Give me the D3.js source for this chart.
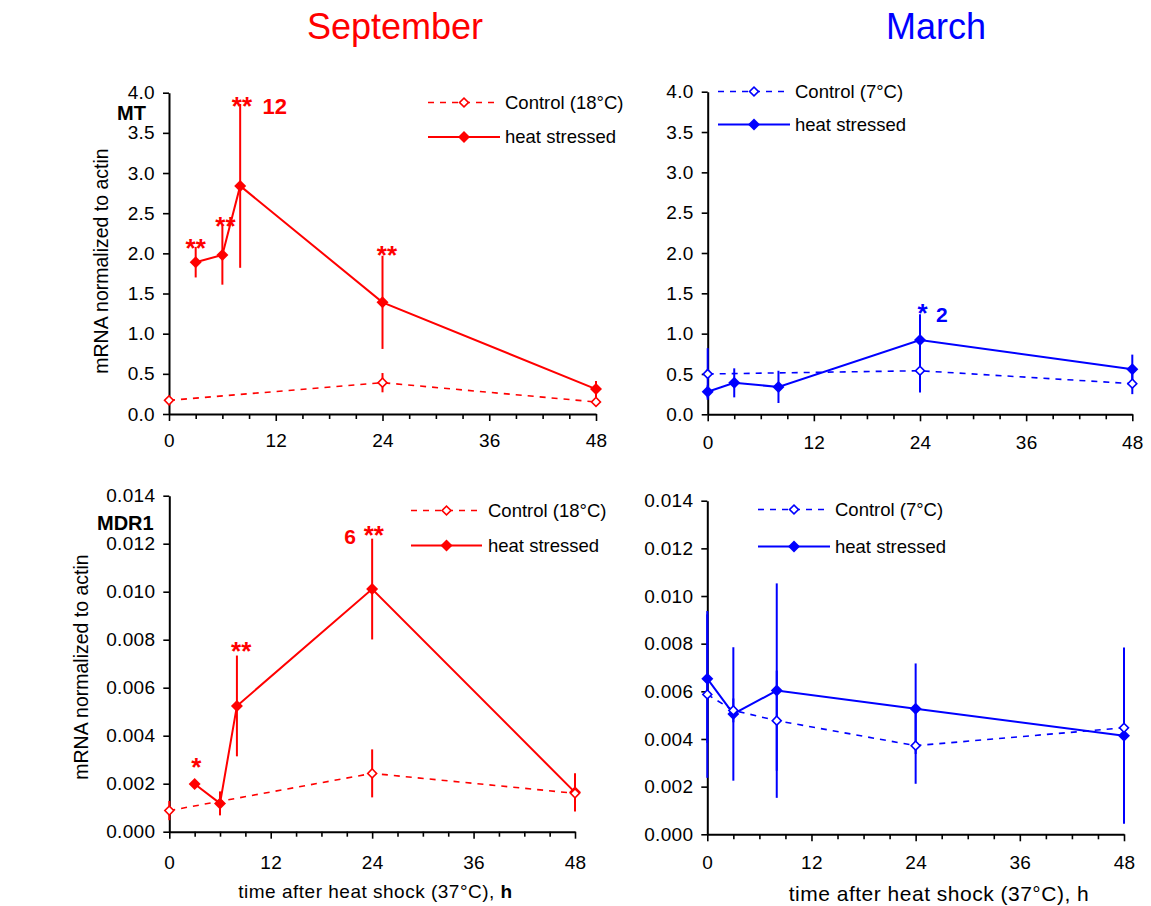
<!DOCTYPE html>
<html><head><meta charset="utf-8">
<script src="https://cdn.jsdelivr.net/npm/d3@7"></script>
<style>
body{margin:0;background:#fff}
svg{display:block}
text{font-family:"Liberation Sans",Arial,Helvetica,sans-serif}
</style>
</head><body>
<svg id="chart" width="1151" height="906"></svg>
<script>
// ---------------- DATA ----------------
const xTicks = [0,3,6,9,12,15,18,21,24,27,30,33,36,39,42,45,48];
const xTickLabels = [0,12,24,36,48];
const mtTicks = [0,0.5,1.0,1.5,2.0,2.5,3.0,3.5,4.0];
const mdrTicks = [0,0.002,0.004,0.006,0.008,0.010,0.012,0.014];

const columnTitles = ["September","March"];
const rowLabels = ["MT","MDR1"];
const seriesNames = ["heat stressed"];
const controlNames = ["Control (18°C)","Control (7°C)"];
const yTitle = "mRNA normalized to actin";
const xTitle = "time after heat shock (37°C), ";
const xTitleUnit = "h";

// September, MT
const sepMT_heat_t = [3,6,8,24,48];
const sepMT_heat_v = [1.89,1.98,2.84,1.39,0.31];
const sepMT_heat_e = [0.19,0.37,1.02,0.58,0.10];
const sepMT_ctrl_t = [0,24,48];
const sepMT_ctrl_v = [0.17,0.39,0.15];
const sepMT_ctrl_e = [0.03,0.12,0.04];
const sepMT_marks = [{t:3,y:2.19,s:"**"},{t:6.35,y:2.46,s:"**"},{t:8.2,y:3.96,s:"**"},{t:24.5,y:2.10,s:"**"}];
const sepMT_fold = [{t:10.5,y:3.74,s:"12"}];

// March, MT
const marMT_heat_t = [0,3,8,24,48];
const marMT_heat_v = [0.28,0.39,0.34,0.92,0.56];
const marMT_heat_e = [0.08,0.18,0.20,0.32,0.18];
const marMT_ctrl_t = [0,24,48];
const marMT_ctrl_v = [0.50,0.54,0.38];
const marMT_ctrl_e = [0.32,0.27,0.13];
const marMT_marks = [{t:24.3,y:1.37,s:"*"}];
const marMT_fold = [{t:25.8,y:1.145,s:"2"}];

// September, MDR1
const sepMDR_heat_t = [3,6,8,24,48];
const sepMDR_heat_v = [0.00199,0.00118,0.00524,0.01011,0.00164];
const sepMDR_heat_e = [0,0.0005,0.0021,0.0021,0.0008];
const sepMDR_ctrl_t = [0,24,48];
const sepMDR_ctrl_v = [0.00088,0.00243,0.00160];
const sepMDR_ctrl_e = [0.0004,0.0010,0.0003];
const sepMDR_marks = [{t:3.2,y:0.00308,s:"*"},{t:8.5,y:0.00792,s:"**"},{t:24.2,y:0.01278,s:"**"}];
const sepMDR_fold = [{t:20.7,y:0.01199,s:"6"}];

// March, MDR1
const marMDR_heat_t = [0,3,8,24,48];
const marMDR_heat_v = [0.00653,0.00505,0.00603,0.00527,0.00414];
const marMDR_heat_e = [0.0027,0.0028,0.0045,0.0019,0.0037];
const marMDR_ctrl_t = [0,3,8,24,48];
const marMDR_ctrl_v = [0.00587,0.00520,0.00477,0.00372,0.00447];
const marMDR_ctrl_e = [0.0035,0.0005,0.0021,0.0016,0.0005];
const marMDR_marks = [];
const marMDR_fold = [];

// ---------------- DRAW ----------------
const RED = "#ff0000", BLUE = "#0000ff";
const svg = d3.select("#chart");

const zip = (t,v,e) => t.map((d,i)=>({t:d,v:v[i],e:e[i]}));

function panel(c){
  const g = svg.append("g");
  const x = d3.scaleLinear().domain([0,48]).range([c.x0,c.x1]);
  const y = d3.scaleLinear().domain([0,c.ymax]).range([c.y0,c.y1]);

  // y axis
  const ya = d3.axisLeft(y).tickValues(c.yTicks).tickFormat(d3.format(c.fmt))
    .tickSize(6).tickPadding(8).tickSizeOuter(0);
  const gy = g.append("g").attr("transform",`translate(${c.x0},0)`).call(ya);
  // x axis
  const xa = d3.axisBottom(x).tickValues(xTicks)
    .tickFormat(d => xTickLabels.includes(d) ? d : "")
    .tickSize(7).tickPadding(c.xpad).tickSizeOuter(0);
  const gx = g.append("g").attr("transform",`translate(0,${c.y0})`).call(xa);
  gx.selectAll(".tick line").attr("y2", d => xTickLabels.includes(d) ? 7 : 5);
  [gx,gy].forEach(a=>{
    a.attr("font-family",null).attr("font-size",null);
    a.select(".domain").attr("stroke","#000").attr("stroke-width",2);
    a.selectAll(".tick line").attr("stroke","#000").attr("stroke-width",1.6);
    a.selectAll(".tick text").attr("fill","#000").style("font-size","19px")
      .style("letter-spacing","0.3px");
  });

  const heat = zip(c.heat[0],c.heat[1],c.heat[2]);
  const ctrl = zip(c.ctrl[0],c.ctrl[1],c.ctrl[2]);
  const line = d3.line().x(d=>x(d.t)).y(d=>y(d.v));

  // control dashed line
  g.append("path").datum(ctrl).attr("d",line).attr("fill","none")
    .attr("stroke",c.color).attr("stroke-width",1.6).attr("stroke-dasharray","6,6");
  // heat solid line
  g.append("path").datum(heat).attr("d",line).attr("fill","none")
    .attr("stroke",c.color).attr("stroke-width",2);
  // error bars
  g.selectAll(null).data(ctrl.concat(heat)).enter().append("line")
    .attr("x1",d=>x(d.t)).attr("x2",d=>x(d.t))
    .attr("y1",d=>y(d.v-d.e)).attr("y2",d=>y(d.v+d.e))
    .attr("stroke",c.color).attr("stroke-width",2);
  // markers
  const filled = d3.symbol().type(d3.symbolSquare).size(72);
  const open = d3.symbol().type(d3.symbolSquare).size(40);
  g.selectAll(null).data(heat).enter().append("path")
    .attr("d",filled).attr("transform",d=>`translate(${x(d.t)},${y(d.v)}) rotate(45)`)
    .attr("fill",c.color);
  g.selectAll(null).data(ctrl).enter().append("path")
    .attr("d",open).attr("transform",d=>`translate(${x(d.t)},${y(d.v)}) rotate(45)`)
    .attr("fill","#fff").attr("stroke",c.color).attr("stroke-width",1.6);

  // significance marks
  g.selectAll(null).data(c.marks).enter().append("text")
    .attr("x",d=>x(d.t)).attr("y",d=>y(d.y)+18.6)
    .attr("text-anchor","middle").attr("fill",c.color)
    .style("font-size","26px").style("font-weight","bold").text(d=>d.s);
  g.selectAll(null).data(c.fold).enter().append("text")
    .attr("x",d=>x(d.t)).attr("y",d=>y(d.y))
    .attr("text-anchor","start").attr("fill",c.color)
    .style("font-size",c.foldSize+"px").style("font-weight","bold").text(d=>d.s);

  // legend
  const L = c.leg;
  const lg = g.append("g");
  lg.append("line").attr("x1",L.a).attr("x2",L.b).attr("y1",L.y1).attr("y2",L.y1)
    .attr("stroke",c.color).attr("stroke-width",1.6).attr("stroke-dasharray","6,6");
  lg.append("path").attr("d",open).attr("transform",`translate(${(L.a+L.b)/2},${L.y1}) rotate(45)`)
    .attr("fill","#fff").attr("stroke",c.color).attr("stroke-width",1.6);
  lg.append("text").attr("x",L.tx).attr("y",L.y1).attr("dy","0.35em")
    .style("font-size","18.5px").text(c.ctrlName);
  lg.append("line").attr("x1",L.a).attr("x2",L.b).attr("y1",L.y2).attr("y2",L.y2)
    .attr("stroke",c.color).attr("stroke-width",2);
  lg.append("path").attr("d",filled).attr("transform",`translate(${(L.a+L.b)/2},${L.y2}) rotate(45)`)
    .attr("fill",c.color);
  lg.append("text").attr("x",L.tx).attr("y",L.y2).attr("dy","0.35em")
    .style("font-size","18.5px").text(seriesNames[0]);
}

panel({x0:169,x1:596,y0:414,y1:92.7,ymax:4.0,yTicks:mtTicks,fmt:".1f",xpad:13,color:RED,
  heat:[sepMT_heat_t,sepMT_heat_v,sepMT_heat_e],ctrl:[sepMT_ctrl_t,sepMT_ctrl_v,sepMT_ctrl_e],
  marks:sepMT_marks,fold:sepMT_fold,foldSize:22,ctrlName:controlNames[0],
  leg:{a:428,b:500,y1:102.5,y2:137,tx:505}});
panel({x0:707.7,x1:1132.3,y0:414.3,y1:91.7,ymax:4.0,yTicks:mtTicks,fmt:".1f",xpad:14,color:BLUE,
  heat:[marMT_heat_t,marMT_heat_v,marMT_heat_e],ctrl:[marMT_ctrl_t,marMT_ctrl_v,marMT_ctrl_e],
  marks:marMT_marks,fold:marMT_fold,foldSize:21,ctrlName:controlNames[1],
  leg:{a:718,b:790,y1:91.5,y2:124.5,tx:795}});
panel({x0:169.3,x1:575,y0:831.7,y1:495.7,ymax:0.014,yTicks:mdrTicks,fmt:".3f",xpad:17,color:RED,
  heat:[sepMDR_heat_t,sepMDR_heat_v,sepMDR_heat_e],ctrl:[sepMDR_ctrl_t,sepMDR_ctrl_v,sepMDR_ctrl_e],
  marks:sepMDR_marks,fold:sepMDR_fold,foldSize:21,ctrlName:controlNames[0],
  leg:{a:411,b:482,y1:510.5,y2:545.5,tx:488}});
panel({x0:707.3,x1:1124,y0:834.3,y1:500.7,ymax:0.014,yTicks:mdrTicks,fmt:".3f",xpad:14,color:BLUE,
  heat:[marMDR_heat_t,marMDR_heat_v,marMDR_heat_e],ctrl:[marMDR_ctrl_t,marMDR_ctrl_v,marMDR_ctrl_e],
  marks:marMDR_marks,fold:marMDR_fold,foldSize:21,ctrlName:controlNames[1],
  leg:{a:758,b:830,y1:509.5,y2:546.5,tx:835}});

// titles
svg.append("text").attr("x",395).attr("y",39).attr("text-anchor","middle")
  .attr("fill",RED).style("font-size","36px").text(columnTitles[0]);
svg.append("text").attr("x",936).attr("y",39).attr("text-anchor","middle")
  .attr("fill",BLUE).style("font-size","36px").text(columnTitles[1]);
// row labels
svg.append("text").attr("x",117).attr("y",120).style("font-size","20px").style("font-weight","bold").text(rowLabels[0]);
svg.append("text").attr("x",97).attr("y",530).style("font-size","20px").style("font-weight","bold").text(rowLabels[1]);
// y titles
[[108,261],[87.5,667]].forEach(([cx,cy])=>{
  svg.append("text").attr("transform",`translate(${cx},${cy}) rotate(-90)`)
    .attr("text-anchor","middle").style("font-size","19.5px").text(yTitle);
});
// x titles
const xt1 = svg.append("text").attr("x",375.5).attr("y",898).attr("text-anchor","middle")
  .style("font-size","19px").style("letter-spacing","0.5px");
xt1.append("tspan").text(xTitle);
xt1.append("tspan").style("font-weight","bold").text(xTitleUnit);
const xt2 = svg.append("text").attr("x",939).attr("y",901).attr("text-anchor","middle")
  .style("font-size","21px").style("letter-spacing","0.5px");
xt2.append("tspan").text(xTitle);
xt2.append("tspan").text(xTitleUnit);
</script>
</body></html>
